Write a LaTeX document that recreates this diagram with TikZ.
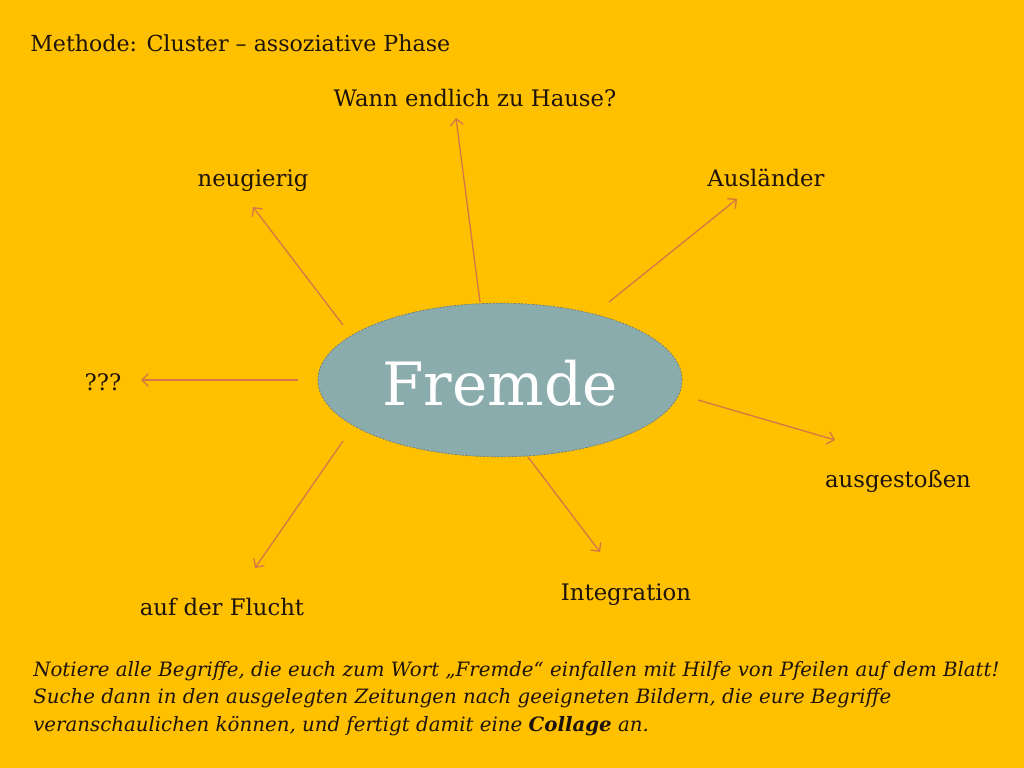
\documentclass[tikz,border=0pt]{standalone}
\usepackage{fontspec}
\setmainfont{DejaVu Serif}
\usepackage{tikz}
\usetikzlibrary{shapes.geometric}
\usetikzlibrary{arrows.meta}

\definecolor{slidebg}{RGB}{255,192,0}
\definecolor{arrowcol}{RGB}{214,118,70}
\definecolor{ovalfill}{RGB}{138,172,173}
\definecolor{ovalline}{RGB}{110,125,125}
\definecolor{textcol}{RGB}{30,20,10}

\begin{document}
\begin{tikzpicture}
		[x=0.703125pt, y=-0.703125pt, >={Straight Barb[length=4.5pt, width=9pt]},
		 term/.style={anchor=base, text=textcol, inner sep=0pt, font=\fontsize{16}{19}\selectfont},
		 link/.style={->, draw=arrowcol, line width=0.9pt},
		 centre/.style={ellipse, draw=ovalline, dashed, dash pattern=on 1.5pt off 1pt, line width=0.5pt,
		   fill=ovalfill, minimum width=256pt, minimum height=108pt, inner sep=0pt}]
		\fill[slidebg] (0,0) rectangle (1024,768);
		\useasboundingbox (0,0) rectangle (1024,768);

		\node[term, anchor=base west, font=\fontsize{15.55}{19}\selectfont] (title) at (30,52)
		  {Methode: Cluster -- assoziative Phase};

		\node[centre] (fremde) at (500,380) {};
		\node[anchor=base, text=white, inner sep=0pt, font=\fontsize{42}{48}\selectfont] (wort) at (500,405) {Fremde};

		\node[term] (hause) at (475,107) {Wann endlich zu Hause?};
		\node[term] (neugierig) at (253,187) {neugierig};
		\node[term] (auslaender) at (766,187) {Ausländer};
		\node[term] (fragen) at (103,390) {???};
		\node[term] (ausgestossen) at (898,487) {ausgestoßen};
		\node[term] (integration) at (626,600) {Integration};
		\node[term] (flucht) at (222,615) {auf der Flucht};

		\coordinate (s1) at (480,302); \coordinate (e1) at (456,118);
		\coordinate (s2) at (343,325); \coordinate (e2) at (253,207);
		\coordinate (s3) at (609,302); \coordinate (e3) at (737,199);
		\coordinate (s4) at (298,380); \coordinate (e4) at (141,380);
		\coordinate (s5) at (698,400); \coordinate (e5) at (835,440);
		\coordinate (s6) at (528,457); \coordinate (e6) at (600,552);
		\coordinate (s7) at (343,441); \coordinate (e7) at (255,568);

		\draw[link] (s1) -- (e1);
		\draw[link] (s2) -- (e2);
		\draw[link] (s3) -- (e3);
		\draw[link] (s4) -- (e4);
		\draw[link] (s5) -- (e5);
		\draw[link] (s6) -- (e6);
		\draw[link] (s7) -- (e7);

		\node[anchor=base west, text=textcol, inner sep=0pt, align=left,
		  font=\itshape\fontsize{13.9}{19}\selectfont] (auftrag) at (33,731)
		  {Notiere alle Begriffe, die euch zum Wort „Fremde“ einfallen mit Hilfe von Pfeilen auf dem Blatt!\\
		   Suche dann in den ausgelegten Zeitungen nach geeigneten Bildern, die eure Begriffe\\
		   veranschaulichen können, und fertigt damit eine \textbf{Collage} an.};
	\end{tikzpicture}
\end{document}
